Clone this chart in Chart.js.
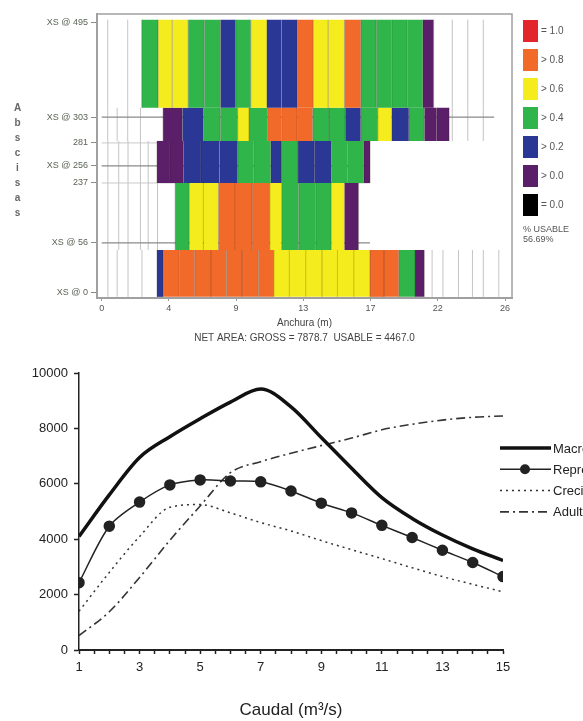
<!DOCTYPE html>
<html>
<head>
<meta charset="utf-8">
<script src="https://cdn.jsdelivr.net/npm/chart.js@4.4.0/dist/chart.umd.min.js"></script>
<style>
  body { margin: 0; width: 583px; height: 721px; overflow: hidden; background: #fff; position: relative;
         font-family: "Liberation Sans", Arial, sans-serif; }
  #habitat { position: absolute; left: 0; top: 0; }
  #caudal { position: absolute; left: 0; top: 350px; }
  #abscisas { position: absolute; left: 12px; top: 102px; writing-mode: vertical-lr; text-orientation: upright;
              font-size: 10px; font-weight: bold; color: #666; letter-spacing: 4px; }
  #habLegend { position: absolute; left: 523px; top: 20px; font-size: 10px; color: #555; }
  .item { height: 29px; position: relative; }
  .box { position: absolute; left: 0; top: 0; width: 15px; height: 22px; }
  .lab { position: absolute; left: 18px; top: 5px; white-space: nowrap; }
  #usable { position: absolute; left: 523px; top: 224px; font-size: 9px; line-height: 10px; color: #555; }
</style>
</head>
<body>
<canvas id="habitat" width="583" height="350"></canvas>
<canvas id="caudal" width="583" height="371"></canvas>
<div id="abscisas">Abscisas</div>
<div id="habLegend"></div>
<div id="usable">% USABLE<br>56.69%</div>
<script>
// ---------- top: habitat map ----------
const habLegendLabels = ['= 1.0', '> 0.8', '> 0.6', '> 0.4', '> 0.2', '> 0.0', '= 0.0'];
const habCodes = ['R', 'O', 'Y', 'G', 'B', 'P', 'K'];
const habColors = ['#e3262b', '#f26a2a', '#f5ec1e', '#2fb54a', '#2b3794', '#5a1f68', '#000000'];

const xsLabels = ['XS @ 495', 'XS @ 303', '281', 'XS @ 256', '237', 'XS @ 56', 'XS @ 0'];
const xsPos = [97, 63.7, 54.6, 46.5, 40.5, 19.4, 1.8];
const xsReach = [0, 25.3, 17.3, 17.3, 17.3, 17.3, 0];
const xsMajor = [true, true, false, true, false, true, true];

const anchuraTicks = [0, 4.333, 8.667, 13, 17.333, 21.667, 26];

// rows of cells, top to bottom: [bottom, top] in plot units
const rowBands = [[67, 98], [55.3, 67], [40.5, 55.3], [16.9, 40.5], [0.4, 16.9]];
const rowEdges = [
  [2.58, 3.64, 4.55, 5.58, 6.62, 7.66, 8.64, 9.61, 10.65, 11.6, 12.6, 13.64, 14.6, 15.65, 16.7, 17.7, 18.7, 19.7, 20.7, 21.4],
  [3.96, 5.2, 6.56, 7.65, 8.77, 9.5, 10.7, 11.6, 12.6, 13.6, 14.65, 15.7, 16.7, 17.8, 18.7, 19.8, 20.8, 21.6, 22.4],
  [3.57, 4.4, 5.26, 6.4, 7.6, 8.77, 9.8, 10.9, 11.56, 12.66, 13.7, 14.8, 15.85, 16.9, 17.3],
  [4.74, 5.65, 6.56, 7.53, 8.6, 9.7, 10.84, 11.6, 12.7, 13.8, 14.8, 15.65, 16.56],
  [3.57, 3.96, 5.0, 6.0, 7.05, 8.05, 9.05, 10.1, 11.1, 12.1, 13.15, 14.2, 15.2, 16.25, 17.3, 18.2, 19.15, 20.2, 20.8]
];
const rowCells = [
  'GYYGGBGYBBOYYOGGGGP',
  'PBGGYGOOOGGBGYBGPP',
  'PPBBBGGBGBBGGP',
  'GYYOOOYGGGYP',
  'BOOOOOOOYYYYYYOOGP'
];
// grey verticals of dry cells
const dryLines = [
  [0.39, 1.68, 22.6, 23.6, 24.6],
  [0.39, 1.0, 1.68, 2.5, 22.6, 23.6, 24.6],
  [0.4, 1.1, 1.7, 2.5, 3.0],
  [0.4, 1.1, 1.7, 2.5, 3.0, 3.6],
  [0.4, 1.0, 1.7, 2.6, 21.3, 22.0, 23.0, 23.9, 24.6, 25.6]
];

const topDatasets = [];

const dryPts = [];
dryLines.forEach((xs, r) => {
  xs.forEach(x => { dryPts.push({x: x, y: rowBands[r][0]}, {x: x, y: rowBands[r][1]}, {x: x, y: null}); });
});
topDatasets.push({data: dryPts, showLine: true, borderColor: '#c4c4c4', borderWidth: 1, pointRadius: 0, spanGaps: false, order: 10});

const xsPts = [];
const xsMinorPts = [];
xsPos.forEach((y, i) => {
  if (xsReach[i] > 0) {
    (xsMajor[i] ? xsPts : xsMinorPts).push({x: 0, y: y}, {x: xsReach[i], y: y}, {x: xsReach[i], y: null});
  }
});
topDatasets.push({data: xsPts, showLine: true, borderColor: '#8a8a8a', borderWidth: 1.2, pointRadius: 0, spanGaps: false, order: 9});
topDatasets.push({data: xsMinorPts, showLine: true, borderColor: '#c8c8c8', borderWidth: 1, pointRadius: 0, spanGaps: false, order: 9});

rowCells.forEach((codes, r) => {
  const [bot, top] = rowBands[r];
  const edges = rowEdges[r];
  codes.split('').forEach((c, i) => {
    topDatasets.push({
      data: [{x: edges[i], y: top}, {x: edges[i + 1], y: top}],
      showLine: true,
      fill: {value: bot},
      backgroundColor: habColors[habCodes.indexOf(c)],
      borderColor: 'rgba(0,0,0,0)',
      borderWidth: 0,
      pointRadius: 0,
      order: 5
    });
  });
});

const sepPts = [];
rowEdges.forEach((edges, r) => {
  edges.forEach(x => { sepPts.push({x: x, y: rowBands[r][0]}, {x: x, y: rowBands[r][1]}, {x: x, y: null}); });
});
topDatasets.push({data: sepPts, showLine: true, borderColor: 'rgba(40,30,20,0.3)', borderWidth: 1, pointRadius: 0, spanGaps: false, order: 1});

const framePlugin = {
  id: 'frame',
  afterDraw(chart) {
    const a = chart.chartArea, ctx = chart.ctx;
    ctx.save();
    ctx.strokeStyle = '#a0a0a0';
    ctx.lineWidth = 1.5;
    ctx.strokeRect(a.left, a.top, a.right - a.left, a.bottom - a.top);
    ctx.restore();
  }
};

Chart.defaults.font.family = '"Liberation Sans", Arial, sans-serif';

new Chart(document.getElementById('habitat'), {
  type: 'scatter',
  data: {datasets: topDatasets},
  options: {
    responsive: false,
    animation: false,
    layout: {padding: {top: 14, right: 71, left: 0, bottom: 0}},
    plugins: {legend: {display: false}, tooltip: {enabled: false}},
    scales: {
      x: {
        type: 'linear', min: -0.3, max: 26.45,
        afterBuildTicks: s => { s.ticks = anchuraTicks.map(v => ({value: v})); },
        afterFit: s => { s.height = 52; },
        ticks: {callback: v => Math.round(v), font: {size: 9}, color: '#555', padding: 2, maxRotation: 0, autoSkip: false},
        grid: {drawOnChartArea: false, tickLength: 3, color: '#999'},
        border: {color: '#a0a0a0', width: 2},
        title: {display: true, text: ['Anchura (m)', 'NET AREA: GROSS = 7878.7  USABLE = 4467.0'],
                font: {size: 10, lineHeight: 1.5}, color: '#444', padding: {top: 0, bottom: 4.5}}
      },
      y: {
        type: 'linear', min: 0, max: 100,
        afterBuildTicks: s => { s.ticks = xsPos.map(v => ({value: v})); },
        afterFit: s => { s.width = 97; },
        ticks: {callback: v => xsLabels[xsPos.indexOf(v)], font: {size: 9}, color: '#5a6455', padding: 3, autoSkip: false},
        grid: {drawOnChartArea: false, tickLength: 6, color: '#888'},
        border: {color: '#a0a0a0', width: 2}
      }
    }
  },
  plugins: [framePlugin]
});

const legendBox = document.getElementById('habLegend');
habLegendLabels.forEach((t, i) => {
  const it = document.createElement('div');
  it.className = 'item';
  it.innerHTML = '<div class="box" style="background:' + habColors[i] + '"></div><div class="lab">' + t + '</div>';
  legendBox.appendChild(it);
});

// ---------- bottom: habitat vs flow ----------
const caudal = [1, 2, 3, 4, 5, 6, 7, 8, 9, 10, 11, 12, 13, 14, 15];
const macro = [4100, 5600, 6950, 7700, 8350, 8950, 9420, 8780, 7670, 6560, 5500, 4750, 4150, 3650, 3230];
const repr = [2430, 4470, 5340, 5960, 6140, 6100, 6070, 5740, 5300, 4950, 4500, 4060, 3600, 3160, 2650];
const crec = [1400, 2800, 4100, 5150, 5250, 4950, 4600, 4300, 3950, 3620, 3300, 2970, 2650, 2370, 2100];
const adul = [520, 1380, 2620, 3960, 5200, 6400, 6800, 7100, 7380, 7650, 7950, 8150, 8300, 8400, 8450];
const seriesLabels = ['Macroinvertebrados', 'Reproducción', 'Crecimiento', 'Adultos'];

function pts(vals) {
  return caudal.map((q, i) => ({x: q, y: vals[i]}));
}

const lineLegend = {
  id: 'lineLegend',
  afterDraw(chart) {
    const ctx = chart.ctx;
    chart.data.datasets.forEach((ds, i) => {
      const y = 98 + i * 21.3;
      ctx.save();
      ctx.strokeStyle = ds.borderColor;
      ctx.lineWidth = ds.borderWidth;
      ctx.setLineDash(ds.borderDash || []);
      ctx.beginPath();
      ctx.moveTo(500, y);
      ctx.lineTo(551, y);
      ctx.stroke();
      if (ds.pointRadius) {
        ctx.setLineDash([]);
        ctx.fillStyle = ds.pointBackgroundColor;
        ctx.beginPath();
        ctx.arc(525, y, ds.pointRadius, 0, Math.PI * 2);
        ctx.fill();
      }
      ctx.fillStyle = '#222';
      ctx.font = '13px "Liberation Sans", Arial, sans-serif';
      ctx.textBaseline = 'middle';
      ctx.fillText(ds.label, 553, y + 1);
      ctx.restore();
    });
  }
};

new Chart(document.getElementById('caudal'), {
  type: 'line',
  data: {
    datasets: [
      {label: seriesLabels[0], data: pts(macro), borderColor: '#111', borderWidth: 3.5, pointRadius: 0,
       cubicInterpolationMode: 'monotone', fill: false},
      {label: seriesLabels[1], data: pts(repr), borderColor: '#222', borderWidth: 1.5, pointRadius: 5,
       pointBackgroundColor: '#222', pointBorderColor: '#222', tension: 0.3, fill: false},
      {label: seriesLabels[2], data: pts(crec), borderColor: '#333', borderWidth: 1.5, borderDash: [2, 4], pointRadius: 0,
       cubicInterpolationMode: 'monotone', fill: false},
      {label: seriesLabels[3], data: pts(adul), borderColor: '#333', borderWidth: 1.6, borderDash: [9, 4, 2, 4], pointRadius: 0,
       cubicInterpolationMode: 'monotone', fill: false}
    ]
  },
  options: {
    responsive: false,
    animation: false,
    layout: {padding: {top: 23, right: 80, left: 0, bottom: 0}},
    plugins: {legend: {display: false}, tooltip: {enabled: false}},
    scales: {
      x: {
        type: 'linear', min: 1, max: 15,
        afterFit: s => { s.height = 71; },
        ticks: {stepSize: 0.5, autoSkip: false, maxRotation: 0, padding: 6, color: '#222', font: {size: 13},
                callback: v => (Number.isInteger(v) && v % 2 === 1) ? v : ''},
        grid: {drawOnChartArea: false, tickLength: 4, color: '#222', tickWidth: 1.5},
        border: {color: '#222', width: 2},
        title: {display: true, text: 'Caudal (m³/s)', font: {size: 17}, color: '#222', padding: {top: 0, bottom: 0}}
      },
      y: {
        type: 'linear', min: 0, max: 10000,
        afterFit: s => { s.width = 79; },
        ticks: {stepSize: 2000, padding: 6, color: '#222', font: {size: 13}, callback: v => String(v)},
        grid: {drawOnChartArea: false, tickLength: 5, color: '#222', tickWidth: 1.5},
        border: {color: '#222', width: 1.5}
      }
    }
  },
  plugins: [lineLegend]
});
</script>
</body>
</html>
